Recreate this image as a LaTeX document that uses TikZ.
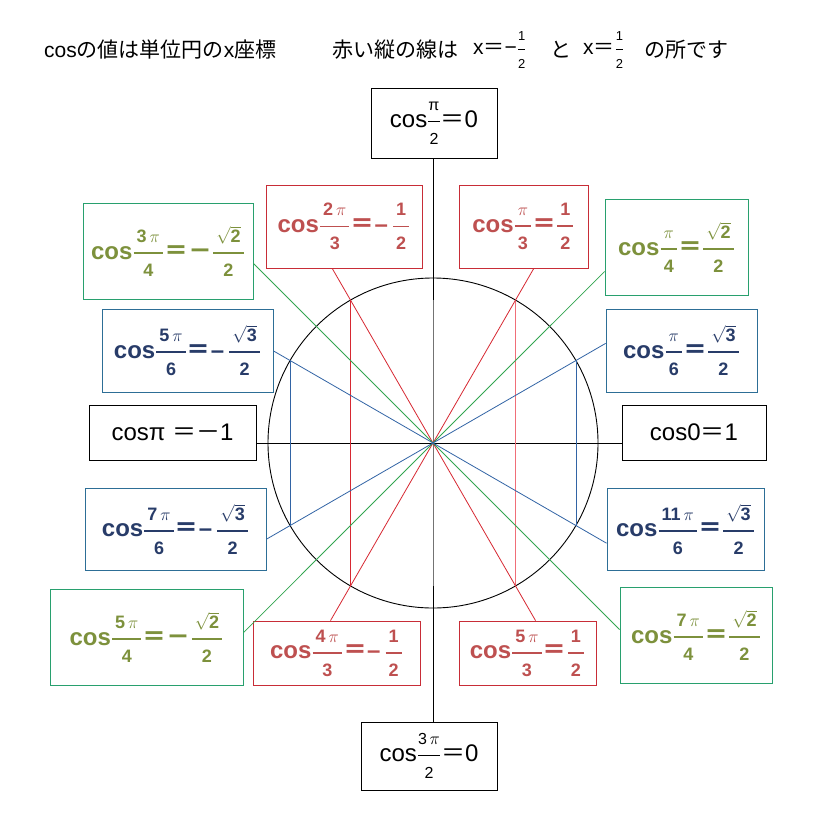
\documentclass[tikz,border=0pt]{standalone}
\usepackage{amsmath}
\usepackage{fontspec}
\setmainfont{Liberation Sans}
\newfontfamily\jp{Noto Sans CJK JP}
\usetikzlibrary{calc}
\definecolor{rb}{RGB}{200,45,55}
\definecolor{rt}{RGB}{190,80,80}
\definecolor{rl}{RGB}{215,40,50}
\definecolor{rlp}{RGB}{240,110,120}
\definecolor{gb}{RGB}{40,160,110}
\definecolor{gt}{RGB}{125,145,60}
\definecolor{gl}{RGB}{50,165,80}
\definecolor{bb}{RGB}{45,110,150}
\definecolor{bt}{RGB}{40,60,105}
\definecolor{bl}{RGB}{50,100,165}
\newcommand{\fsz}{\fontsize{18}{18}\selectfont}
\newcommand{\fszk}{\fontsize{16}{16}\selectfont}
\newcommand{\fr}[2]{$\displaystyle\genfrac{}{}{1.6pt}{}{\mbox{\fsz\,#1\,}}{\mbox{\fsz #2}}$}
\newcommand{\frk}[2]{$\displaystyle\genfrac{}{}{0.7pt}{}{\mbox{\fszk #1}}{\mbox{\fszk #2}}$}
\newcommand{\frt}[2]{$\displaystyle\genfrac{}{}{0.6pt}{}{\mbox{\fontsize{13}{13}\selectfont #1}}{\mbox{\fontsize{13}{13}\selectfont #2}}$}
\newcommand{\sqr}[1]{$\sqrt{\mbox{#1}}$}
\tikzset{
 boxK/.style={draw=black, line width=0.9pt, inner sep=0pt, font=\fontsize{24}{28}\selectfont},
 boxR/.style={draw=rb, line width=0.9pt, inner sep=0pt, text=rt, font=\fontsize{24}{28}\selectfont\bfseries},
 boxG/.style={draw=gb, line width=0.9pt, inner sep=0pt, text=gt, font=\fontsize{24}{28}\selectfont\bfseries},
 boxB/.style={draw=bb, line width=0.9pt, inner sep=0pt, text=bt, font=\fontsize{24}{28}\selectfont\bfseries},
 ttl/.style={anchor=west, inner sep=0pt, font=\fontsize{21}{24}\selectfont},
 lnK/.style={black, line width=0.9pt},
 lnGray/.style={black!55, line width=0.9pt},
 lnR/.style={rl, line width=0.8pt},
 lnRp/.style={rlp, line width=0.8pt},
 lnG/.style={gl, line width=0.8pt},
 lnB/.style={bl, line width=0.8pt},
}
\begin{document}
\begin{tikzpicture}[x=1pt,y=-1pt]
\useasboundingbox[fill=white] (0,0) rectangle (814,822);
% title
\node[ttl] (t1) at (44,50) {cos{\jp の値は単位円の}x{\jp 座標}};
\node[ttl] (t2) at (332,50) {\jp 赤い縦の線は};
\node[ttl] (t3) at (473,50) {x{\jp ＝}−\frt{1}{2}};
\node[ttl] (t4) at (550,50) {\jp と};
\node[ttl] (t5) at (583,50) {x{\jp ＝}\frt{1}{2}};
\node[ttl] (t6) at (644,50) {\jp の所です};
% geometry
\coordinate (O) at (433,443);
\foreach \a in {30,45,60,120,135,150,210,225,240,300,315,330}
  \path (O) ++(-\a:165) coordinate (p\a);
% boxes
\node[boxK, minimum width=126, minimum height=70] (T) at (434,123) {cos\frk{π}{2}{\jp ＝}0};
\node[boxK, minimum width=136, minimum height=68] (Bot) at (429,756) {cos\frk{3\,$\pi$}{2}{\jp ＝}0};
\node[boxK, minimum width=167, minimum height=55] (L) at (172.5,432.5) {cosπ {\jp ＝－}1};
\node[boxK, minimum width=144, minimum height=55] (Rt) at (694,432.5) {cos0{\jp ＝}1};
\node[boxR, minimum width=156, minimum height=83] (R120) at (344,226.5) {cos\fr{2\,$\pi$}{3}{\jp ＝}–\,\fr{1}{2}};
\node[boxR, minimum width=129, minimum height=83] (R60) at (523.5,226.5) {cos\fr{$\pi$}{3}{\jp ＝}\fr{1}{2}};
\node[boxG, minimum width=170, minimum height=96] (G135) at (168,251) {cos\fr{3\,$\pi$}{4}{\jp ＝－}\fr{\sqr{2}}{2}};
\node[boxG, minimum width=143, minimum height=96] (G45) at (676.5,247) {cos\fr{$\pi$}{4}{\jp ＝}\fr{\sqr{2}}{2}};
\node[boxB, minimum width=171, minimum height=83] (B150) at (187.5,350.5) {cos\fr{5\,$\pi$}{6}{\jp ＝}–\,\fr{\sqr{3}}{2}};
\node[boxB, minimum width=151, minimum height=83] (B30) at (681.5,350.5) {cos\fr{$\pi$}{6}{\jp ＝}\fr{\sqr{3}}{2}};
\node[boxB, minimum width=181, minimum height=82] (B210) at (175.5,529) {cos\fr{7\,$\pi$}{6}{\jp ＝}–\,\fr{\sqr{3}}{2}};
\node[boxB, minimum width=157, minimum height=82] (B330) at (685.5,529) {cos\fr{11\,$\pi$}{6}{\jp ＝}\fr{\sqr{3}}{2}};
\node[boxG, minimum width=193, minimum height=96] (G225) at (146.5,637) {cos\fr{5\,$\pi$}{4}{\jp ＝－}\fr{\sqr{2}}{2}};
\node[boxG, minimum width=152, minimum height=96] (G315) at (696,635) {cos\fr{7\,$\pi$}{4}{\jp ＝}\fr{\sqr{2}}{2}};
\node[boxR, minimum width=167, minimum height=64] (R240) at (336.5,653) {cos\fr{4\,$\pi$}{3}{\jp ＝}–\,\fr{1}{2}};
\node[boxR, minimum width=137, minimum height=64] (R300) at (527.5,653) {cos\fr{5\,$\pi$}{3}{\jp ＝}\fr{1}{2}};
% axes and circle
\draw[lnK] (T.south -| O) -- (Bot.north -| O);
\draw[lnGray] (p60 -| O) -- (p300 -| O);
\draw[lnK] (L.east |- O) -- (Rt.west |- O);
\draw[lnK] (O) circle[radius=165];
% vertical projection lines
\draw[lnR] (p120) -- (p240);
\draw[lnRp] (p60) -- (p300);
\draw[lnB] (p150) -- (p210);
\draw[lnB] (p30) -- (p330);
% radial lines
\draw[lnR] (O) -- (intersection of O--p60 and R60.south west--R60.south east);
\draw[lnR] (O) -- (intersection of O--p120 and R120.south west--R120.south east);
\draw[lnR] (O) -- (intersection of O--p240 and R240.north west--R240.north east);
\draw[lnR] (O) -- (intersection of O--p300 and R300.north west--R300.north east);
\draw[lnG] (O) -- (intersection of O--p45 and G45.north west--G45.south west);
\draw[lnG] (O) -- (intersection of O--p135 and G135.north east--G135.south east);
\draw[lnG] (O) -- (intersection of O--p225 and G225.north east--G225.south east);
\draw[lnG] (O) -- (intersection of O--p315 and G315.north west--G315.south west);
\draw[lnB] (O) -- (intersection of O--p30 and B30.north west--B30.south west);
\draw[lnB] (O) -- (intersection of O--p150 and B150.north east--B150.south east);
\draw[lnB] (O) -- (intersection of O--p210 and B210.north east--B210.south east);
\draw[lnB] (O) -- (intersection of O--p330 and B330.north west--B330.south west);
\end{tikzpicture}
\end{document}
